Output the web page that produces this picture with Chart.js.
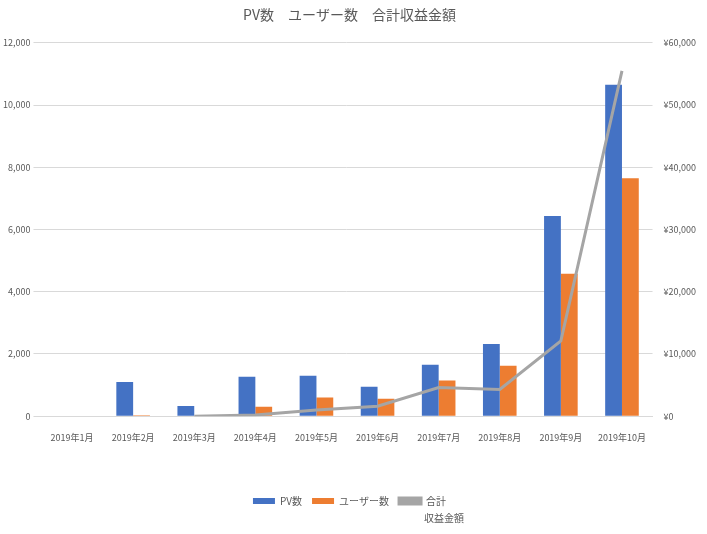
<!DOCTYPE html><html><head><meta charset="utf-8">
<script src="https://cdn.jsdelivr.net/npm/chart.js@4/dist/chart.umd.min.js"></script>
<style>body{margin:0;background:#fff}#w{width:707px;height:534px}</style></head><body><div id="w"><canvas id="c"></canvas></div>
<script>
const categories=['2019年1月','2019年2月','2019年3月','2019年4月','2019年5月','2019年6月','2019年7月','2019年8月','2019年9月','2019年10月'];
const pvValues=[0,1100,330,1270,1300,950,1650,2320,6430,10650];
const userValues=[0,30,0,300,600,560,1150,1620,4580,7650];
const revenueValues=[null,null,0,200,1000,1600,4600,4300,12100,55500];
const F="'Noto Sans CJK JP','Noto Sans',sans-serif";
const sub={id:'sub',afterDraw(ch){const hb=ch.legend.legendHitBoxes;if(!hb||!hb[2])return;const c=ch.ctx;c.save();c.font="10px "+F;c.fillStyle='#595959';c.textBaseline='middle';c.fillText('収益金額',hb[2].left+hb[2].width-22,hb[2].top+hb[2].height/2+17);c.restore();}};
new Chart(document.getElementById('c'),{
data:{labels:categories,datasets:[
{type:'line',label:'合計',data:revenueValues,yAxisID:'y1',borderColor:'#a5a5a5',backgroundColor:'#a5a5a5',borderWidth:3,pointRadius:0,tension:0,order:0},
{type:'bar',label:'PV数',data:pvValues,backgroundColor:'#4472c4',yAxisID:'y',categoryPercentage:0.55,barPercentage:1,order:1},
{type:'bar',label:'ユーザー数',data:userValues,backgroundColor:'#ed7d31',yAxisID:'y',categoryPercentage:0.55,barPercentage:1,order:1}]},
options:{responsive:true,maintainAspectRatio:false,animation:false,
layout:{padding:{left:0,right:8,top:0,bottom:18}},
plugins:{title:{display:true,text:'PV数　ユーザー数　合計収益金額',color:'#595959',font:{family:F,size:14,weight:'normal'},padding:{top:6,bottom:20}},
legend:{position:'bottom',labels:{color:'#595959',font:{family:F,size:10},boxWidth:22,boxHeight:6,padding:10,
sort:(a,b)=>[1,2,0].indexOf(a.datasetIndex)-[1,2,0].indexOf(b.datasetIndex)}},tooltip:{enabled:false}},
scales:{x:{grid:{display:false},border:{color:'#d9d9d9'},ticks:{color:'#595959',font:{family:F,size:9},maxRotation:0,padding:8},afterFit:s=>{s.height+=35;}},
y:{min:0,max:12000,ticks:{stepSize:2000,color:'#595959',font:{family:F,size:9},callback:v=>v.toLocaleString('en-US')},grid:{color:'#d9d9d9'},border:{display:false}},
y1:{position:'right',min:0,max:60000,ticks:{stepSize:10000,color:'#595959',font:{family:F,size:9},callback:v=>'¥'+v.toLocaleString('en-US')},grid:{display:false},border:{display:false}}}},
plugins:[sub]});
</script></body></html>
